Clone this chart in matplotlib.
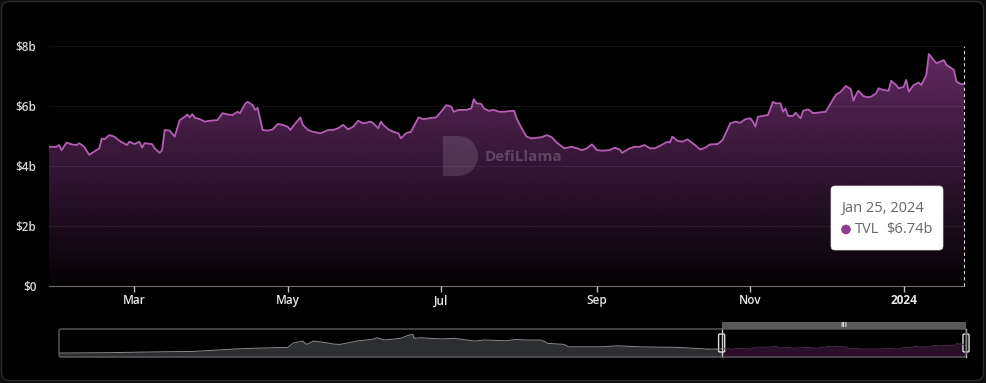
import matplotlib
matplotlib.use('Agg')
import matplotlib.pyplot as plt
import matplotlib.dates as mdates
import numpy as np
import pandas as pd
from matplotlib.patches import FancyBboxPatch, Rectangle, Wedge, Circle
import matplotlib.transforms as mtransforms

plt.rcParams['font.family'] = ['Open Sans', 'DejaVu Sans']

# TVL (billions USD)
dates = [
    '2023-01-26', '2023-01-29', '2023-01-30', '2023-01-31', '2023-02-02', '2023-02-04',
    '2023-02-06', '2023-02-07', '2023-02-09', '2023-02-11', '2023-02-13', '2023-02-15',
    '2023-02-16', '2023-02-17', '2023-02-19', '2023-02-21', '2023-02-23', '2023-02-26',
    '2023-02-27', '2023-03-01', '2023-03-03', '2023-03-04', '2023-03-05', '2023-03-08',
    '2023-03-09', '2023-03-11', '2023-03-12', '2023-03-13', '2023-03-15', '2023-03-17',
    '2023-03-19', '2023-03-21', '2023-03-22', '2023-03-23', '2023-03-24', '2023-03-25',
    '2023-03-27', '2023-03-29', '2023-03-31', '2023-04-03', '2023-04-05', '2023-04-07',
    '2023-04-09', '2023-04-11', '2023-04-12', '2023-04-14', '2023-04-15', '2023-04-17',
    '2023-04-18', '2023-04-19', '2023-04-21', '2023-04-23', '2023-04-25', '2023-04-27',
    '2023-04-29', '2023-05-01', '2023-05-02', '2023-05-04', '2023-05-06', '2023-05-07',
    '2023-05-09', '2023-05-11', '2023-05-14', '2023-05-17', '2023-05-19', '2023-05-21',
    '2023-05-23', '2023-05-25', '2023-05-27', '2023-05-29', '2023-05-31', '2023-06-03',
    '2023-06-04', '2023-06-06', '2023-06-07', '2023-06-08', '2023-06-10', '2023-06-12',
    '2023-06-14', '2023-06-15', '2023-06-17', '2023-06-19', '2023-06-22', '2023-06-24',
    '2023-06-26', '2023-06-29', '2023-07-01', '2023-07-02', '2023-07-03', '2023-07-05',
    '2023-07-06', '2023-07-08', '2023-07-11', '2023-07-13', '2023-07-14', '2023-07-15',
    '2023-07-17', '2023-07-18', '2023-07-20', '2023-07-22', '2023-07-24', '2023-07-26',
    '2023-07-28', '2023-07-30', '2023-07-31', '2023-08-02', '2023-08-04', '2023-08-06',
    '2023-08-09', '2023-08-10', '2023-08-12', '2023-08-14', '2023-08-16', '2023-08-19',
    '2023-08-22', '2023-08-24', '2023-08-26', '2023-08-28', '2023-08-30', '2023-09-01',
    '2023-09-03', '2023-09-06', '2023-09-08', '2023-09-10', '2023-09-11', '2023-09-14',
    '2023-09-16', '2023-09-18', '2023-09-20', '2023-09-22', '2023-09-24', '2023-09-26',
    '2023-09-29', '2023-09-30', '2023-10-01', '2023-10-03', '2023-10-05', '2023-10-07',
    '2023-10-10', '2023-10-12', '2023-10-14', '2023-10-16', '2023-10-19', '2023-10-21',
    '2023-10-24', '2023-10-26', '2023-10-28', '2023-10-30', '2023-11-01', '2023-11-02',
    '2023-11-03', '2023-11-04', '2023-11-06', '2023-11-08', '2023-11-10', '2023-11-11',
    '2023-11-13', '2023-11-14', '2023-11-15', '2023-11-16', '2023-11-18', '2023-11-19',
    '2023-11-21', '2023-11-22', '2023-11-24', '2023-11-26', '2023-11-28', '2023-12-01',
    '2023-12-03', '2023-12-05', '2023-12-07', '2023-12-09', '2023-12-11', '2023-12-12',
    '2023-12-13', '2023-12-14', '2023-12-16', '2023-12-18', '2023-12-19', '2023-12-21',
    '2023-12-22', '2023-12-24', '2023-12-26', '2023-12-27', '2023-12-29', '2023-12-30',
    '2024-01-01', '2024-01-02', '2024-01-03', '2024-01-05', '2024-01-07', '2024-01-08',
    '2024-01-10', '2024-01-11', '2024-01-13', '2024-01-14', '2024-01-15', '2024-01-17',
    '2024-01-18', '2024-01-20', '2024-01-21', '2024-01-22', '2024-01-24', '2024-01-25',
]
tvl = [
    4.64, 4.64, 4.70, 4.53, 4.78, 4.72,
    4.70, 4.76, 4.64, 4.37, 4.48, 4.59,
    4.92, 4.89, 5.03, 4.98, 4.84, 4.70,
    4.81, 4.73, 4.81, 4.61, 4.76, 4.73,
    4.59, 4.44, 4.53, 5.20, 5.18, 4.98,
    5.53, 5.64, 5.72, 5.62, 5.73, 5.61,
    5.56, 5.48, 5.51, 5.53, 5.76, 5.72,
    5.70, 5.81, 5.76, 6.07, 6.14, 6.03,
    5.87, 5.94, 5.20, 5.18, 5.22, 5.40,
    5.37, 5.31, 5.20, 5.42, 5.62, 5.37,
    5.20, 5.14, 5.09, 5.20, 5.20, 5.26,
    5.37, 5.22, 5.31, 5.51, 5.42, 5.48,
    5.42, 5.26, 5.48, 5.37, 5.22, 5.14,
    5.09, 4.92, 5.09, 5.14, 5.62, 5.56,
    5.59, 5.62, 5.81, 5.92, 6.03, 5.98,
    5.81, 5.87, 5.87, 5.92, 6.23, 6.09,
    6.07, 5.92, 5.84, 5.87, 5.81, 5.81,
    5.83, 5.84, 5.59, 5.26, 4.98, 4.92,
    4.95, 4.96, 5.03, 4.96, 4.78, 4.59,
    4.64, 4.59, 4.53, 4.59, 4.72, 4.53,
    4.51, 4.53, 4.61, 4.55, 4.44, 4.59,
    4.64, 4.64, 4.70, 4.59, 4.59, 4.67,
    4.81, 4.78, 4.98, 4.84, 4.81, 4.89,
    4.70, 4.55, 4.61, 4.72, 4.73, 4.87,
    5.42, 5.48, 5.44, 5.56, 5.59, 5.48,
    5.31, 5.64, 5.67, 5.70, 6.14, 6.09,
    6.09, 5.81, 5.92, 5.67, 5.67, 5.78,
    5.59, 5.84, 5.89, 5.76, 5.78, 5.81,
    6.09, 6.37, 6.48, 6.67, 6.56, 6.18,
    6.37, 6.51, 6.33, 6.29, 6.31, 6.42,
    6.59, 6.53, 6.51, 6.84, 6.70, 6.59,
    6.64, 6.87, 6.48, 6.70, 6.78, 6.70,
    7.03, 7.73, 7.53, 7.43, 7.46, 7.53,
    7.37, 7.26, 7.20, 6.81, 6.72, 6.74,
]

# older history shown only in the zoom slider
hist_dates = [
    '2020-05-14', '2020-06-01', '2020-08-01', '2020-10-01', '2020-12-01', '2021-01-01',
    '2021-02-01', '2021-03-01', '2021-04-01', '2021-04-20', '2021-04-28', '2021-05-12',
    '2021-05-18', '2021-05-28', '2021-06-12', '2021-06-27', '2021-07-07', '2021-08-01',
    '2021-08-26', '2021-08-31', '2021-09-10', '2021-09-25', '2021-10-05', '2021-10-15',
    '2021-10-23', '2021-10-25', '2021-11-04', '2021-12-04', '2021-12-24', '2022-01-23',
    '2022-02-06', '2022-03-11', '2022-03-26', '2022-04-10', '2022-05-01', '2022-05-06',
    '2022-05-12', '2022-06-05', '2022-06-12', '2022-07-30', '2022-08-25', '2022-09-25',
    '2022-11-20', '2022-12-20', '2023-01-05',
]
hist_tvl = [
    2.3, 2.3, 2.5, 2.9, 3.2, 3.9,
    4.6, 5.0, 5.3, 5.5, 8.0, 9.1,
    7.2, 9.1, 8.4, 7.4, 7.2, 9.1,
    10.3, 11.0, 9.7, 10.3, 10.7, 12.2,
    13.0, 10.7, 11.0, 10.3, 10.7, 9.1,
    9.7, 9.3, 10.0, 9.7, 9.7, 9.1,
    7.8, 7.2, 5.8, 5.8, 6.4, 5.8,
    5.5, 4.9, 4.5,
]

y_ticks = [0, 2, 4, 6, 8]
y_labels = ['\\$0', '\\$2b', '\\$4b', '\\$6b', '\\$8b']
x_ticks = ['2023-03-01', '2023-05-01', '2023-07-01', '2023-09-01', '2023-11-01', '2024-01-01']
x_labels = ['Mar', 'May', 'Jul', 'Sep', 'Nov', '2024']

W, H = 986, 383
fig = plt.figure(figsize=(W / 100, H / 100), dpi=100, facecolor='#0e0e0e')
# pixel transform with origin top-left
pix = mtransforms.Affine2D().scale(1 / 100, -1 / 100).translate(0, H / 100) + fig.dpi_scale_trans

fig.patches.append(FancyBboxPatch((1.5, 1.5), W - 4, H - 4, boxstyle='round,pad=0,rounding_size=8',
                                  transform=pix, facecolor='black', edgecolor='#2a2a2a', lw=1,
                                  zorder=-10))

t = pd.to_datetime(dates)
th = pd.to_datetime(hist_dates)

# main chart
ax = fig.add_axes([49 / W, 1 - 286 / H, (964 - 49) / W, (286 - 46) / H])
ax.set_facecolor('none')

vmax = max(tvl)
n = 256
grad = np.zeros((n, 1, 4))
grad[:, 0, :3] = np.array([142, 60, 142]) / 255
grad[:, 0, 3] = np.linspace(0.03, 0.68, n)
x0, x1 = mdates.date2num(t[0]), mdates.date2num(t[-1])
fill = ax.fill_between(t, tvl, 0, facecolor='none', edgecolor='none')
im = ax.imshow(grad, extent=[x0, x1, 0, vmax], origin='lower', aspect='auto',
               interpolation='bilinear', zorder=1)
im.set_clip_path(fill.get_paths()[0], transform=ax.transData)
ax.plot(t, tvl, color='#b35fb3', lw=1.3, zorder=3)

ax.set_xlim(t[0], t[-1])
ax.set_ylim(0, 8)
ax.set_yticks(y_ticks)
ax.set_yticklabels(y_labels)
ax.set_xticks(pd.to_datetime(x_ticks))
ax.set_xticklabels(x_labels)
for lab in ax.get_xticklabels() + ax.get_yticklabels():
    lab.set_fontweight('semibold')
ax.get_xticklabels()[-1].set_fontweight('bold')
ax.grid(axis='y', color='white', alpha=0.07, lw=0.8, zorder=2)
ax.set_axisbelow(False)
for s in ['top', 'right', 'left']:
    ax.spines[s].set_visible(False)
ax.spines['bottom'].set_color('#6e6e6e')
ax.tick_params(axis='y', length=0, pad=9, labelcolor='#d6d6d6', labelsize=8.5)
ax.tick_params(axis='x', length=4, width=1, color='#bbbbbb', pad=2, labelcolor='#e8e8e8', labelsize=8.5)

# crosshair at hovered point
ax.axvline(t[-1], color='#d8d8d8', lw=0.8, ls=(0, (3, 2.5)), clip_on=False, zorder=4)

# watermark
fig.patches.append(Rectangle((443, 136), 15, 40, transform=pix, facecolor='white', alpha=0.13, lw=0))
fig.patches.append(Wedge((458, 156), 20, -90, 90, transform=pix, facecolor='white', alpha=0.13, lw=0))
fig.text(485 / W, 1 - 157 / H, 'DefiLlama', color='white', alpha=0.2, fontsize=11,
         fontweight='bold', va='center', ha='left')

# tooltip
fig.patches.append(FancyBboxPatch((831, 186), 112, 64, boxstyle='round,pad=0,rounding_size=4',
                                  transform=pix, facecolor='white', edgecolor='#dddddd', lw=0.5, zorder=5))
fig.text(841 / W, 1 - 208 / H, 'Jan 25, 2024', color='#666666', fontsize=10.5, va='center', zorder=6)
fig.patches.append(Circle((846, 229.5), 4.8, transform=pix, facecolor='#8e3c8e', lw=0, zorder=6))
fig.text(855 / W, 1 - 229.5 / H, 'TVL', color='#666666', fontsize=10.5, va='center', zorder=6)
fig.text(933 / W, 1 - 229.5 / H, '\\$%.2fb' % tvl[-1], color='#666666', fontsize=10.5,
         va='center', ha='right', zorder=6)

# zoom slider
ov = fig.add_axes([59 / W, 1 - 357 / H, (966 - 59) / W, 28 / H])
ov.set_facecolor('none')
ov.axis('off')
ov.fill_between(th, hist_tvl, 0, color='#2c2e32', lw=0)
ov.plot(th, hist_tvl, color='#8c8c8c', lw=0.7)
ov.fill_between([th[-1], t[0]], [hist_tvl[-1], tvl[0]], 0, color='#2c2e32', lw=0)
ov.plot([th[-1], t[0]], [hist_tvl[-1], tvl[0]], color='#8c8c8c', lw=0.7)
ov.fill_between(t, tvl, 0, color='#2a1029', lw=0)
ov.plot(t, tvl, color='#4d2a4d', lw=0.7)
ov.set_xlim(th[0], t[-1])
ov.set_ylim(0, 16)

fig.patches.append(FancyBboxPatch((59, 329), 907, 28, boxstyle='round,pad=0,rounding_size=2',
                                  transform=pix, facecolor='none', edgecolor='#5c5c5c', lw=1))
bt = mtransforms.blended_transform_factory(ov.transData, ov.transAxes)
ov.add_patch(Rectangle((mdates.date2num(t[0]), 1.0), x1 - x0, 0.25, transform=bt,
                       facecolor='#5a5a5a', lw=0, clip_on=False))
ov.text(mdates.date2num(t[0]) + (x1 - x0) / 2, 1.125, 'III', transform=bt, color='#e0e0e0',
        fontsize=5, fontweight='bold', ha='center', va='center')
for d in [t[0], t[-1]]:
    dn = mdates.date2num(d)
    ov.plot([dn, dn], [0, 1], transform=bt, color='#cfcfcf', lw=1, clip_on=False)
    ov.add_patch(FancyBboxPatch((dn - 4.5, 0.18), 9, 0.64, transform=bt,
                                boxstyle='round,pad=0,rounding_size=2',
                                facecolor='black', edgecolor='#dddddd', lw=1, clip_on=False,
                                mutation_aspect=0.02))

fig.savefig('out.png', dpi=100, facecolor=fig.get_facecolor())
